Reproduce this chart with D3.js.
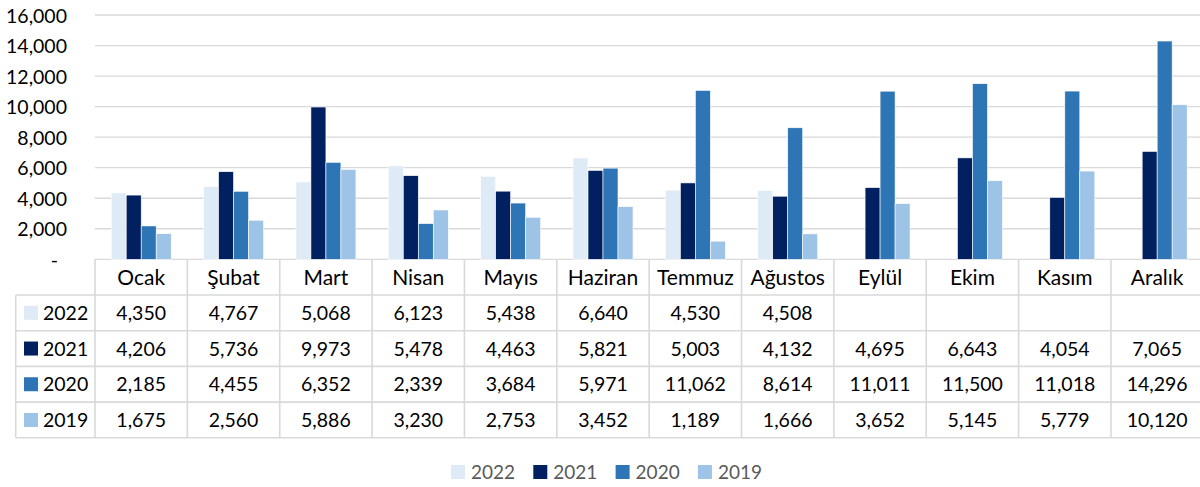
<!DOCTYPE html>
<html><head><meta charset="utf-8">
<script src="https://cdn.jsdelivr.net/npm/d3@7/dist/d3.min.js"></script>
<style>
html,body{margin:0;padding:0;background:#fff;}
svg{display:block;font-family:Lato, "Open Sans", sans-serif;}
</style></head>
<body><svg id="chart" width="1200" height="487"></svg>
<script>
const months = ["Ocak","Şubat","Mart","Nisan","Mayıs","Haziran","Temmuz","Ağustos","Eylül","Ekim","Kasım","Aralık"];
const seriesNames = ["2022","2021","2020","2019"];
const colors = ["#DEEBF7","#002060","#2E75B6","#9DC3E6"];
const v2022 = [4350,4767,5068,6123,5438,6640,4530,4508,null,null,null,null];
const v2021 = [4206,5736,9973,5478,4463,5821,5003,4132,4695,6643,4054,7065];
const v2020 = [2185,4455,6352,2339,3684,5971,11062,8614,11011,11500,11018,14296];
const v2019 = [1675,2560,5886,3230,2753,3452,1189,1666,3652,5145,5779,10120];
const yTicks = [0,2000,4000,6000,8000,10000,12000,14000,16000];

const seriesValues = [v2022,v2021,v2020,v2019];
const svg = d3.select("#chart");
const fmt = d3.format(",");
const gridColor = "#D9D9D9";

const plotTop = 15, plotBottom = 259.3, colW = 92.36, left = 95;
const x = d3.scaleBand().domain(months).range([left, left + colW*12]).padding(0);
const y = d3.scaleLinear().domain([0,16000]).range([plotBottom, plotTop]);
const xs = d3.scaleBand().domain(seriesNames).range([16.2, 76.2]).padding(0);

// gridlines
svg.append("g").selectAll("line").data(yTicks).join("line")
  .attr("x1", left).attr("x2", 1200)
  .attr("y1", d=>y(d)).attr("y2", d=>y(d))
  .attr("stroke", gridColor).attr("stroke-width", 1.3);

// y axis labels
const yAxis = d3.axisLeft(y).tickValues(yTicks).tickSize(0).tickPadding(0)
  .tickFormat(d => d===0 ? "-" : fmt(d));
const ya = svg.append("g").attr("transform","translate(67,0)").call(yAxis);
ya.select(".domain").remove();
ya.selectAll("text").attr("font-size",19.5).attr("fill","#000").attr("font-family","Lato")
  .attr("dy","0.36em")
  .attr("dx", d => d===0 ? -9 : 0);

// bars
const data = [];
months.forEach((m,i)=>seriesNames.forEach((s,j)=>{
  const v = seriesValues[j][i];
  if (v!=null) data.push({m, s, v, c: colors[j]});
}));
svg.append("g").selectAll("rect").data(data).join("rect")
  .attr("x", d => x(d.m) + xs(d.s))
  .attr("width", xs.bandwidth())
  .attr("y", d => y(d.v))
  .attr("height", d => y(0) - y(d.v))
  .attr("fill", d => d.c)
  .attr("stroke","#fff").attr("stroke-width",0.6);

// table
const rowH = 35.7;
const headerBottom = 295;
const tableBottom = headerBottom + rowH*4;
const tableLeft = 15.7;
const t = svg.append("g");
const line = (x1,y1,x2,y2)=>t.append("line").attr("x1",x1).attr("y1",y1).attr("x2",x2).attr("y2",y2)
  .attr("stroke",gridColor).attr("stroke-width",1.6);
for (let r=0;r<=4;r++) line(tableLeft, headerBottom + r*rowH, 1200, headerBottom + r*rowH);
line(tableLeft, headerBottom, tableLeft, tableBottom);
months.forEach(m=>line(x(m), plotBottom, x(m), tableBottom));
line(x(months[11])+colW, plotBottom, x(months[11])+colW, tableBottom);
// header
t.selectAll("text.h").data(months).join("text").attr("class","h")
  .attr("x", d => x(d)+colW/2).attr("y", (plotBottom+headerBottom)/2)
  .attr("dy","0.36em").attr("text-anchor","middle").attr("font-size",21).attr("fill","#000")
  .text(d=>d);
// rows
seriesNames.forEach((s,j)=>{
  const cy = headerBottom + rowH*j + rowH/2;
  t.append("rect").attr("x",24).attr("y",cy-7).attr("width",14).attr("height",14).attr("fill",colors[j]);
  t.append("text").attr("x",43).attr("y",cy).attr("dy","0.36em").attr("font-size",19.5).attr("fill","#000").text(s);
  months.forEach((m,i)=>{
    const v = seriesValues[j][i];
    if (v==null) return;
    t.append("text").attr("x", x(m)+colW/2).attr("y", cy).attr("dy","0.36em")
      .attr("text-anchor","middle").attr("font-size",19.5).attr("fill","#000").text(fmt(v));
  });
});

// legend
const lg = svg.append("g");
seriesNames.forEach((s,j)=>{
  const lx = 451 + j*82.3;
  lg.append("rect").attr("x",lx).attr("y",465).attr("width",14).attr("height",14).attr("fill",colors[j]);
  lg.append("text").attr("x",lx+20).attr("y",472).attr("dy","0.36em").attr("font-size",19).attr("fill","#595959").text(s);
});
</script>
</body></html>
